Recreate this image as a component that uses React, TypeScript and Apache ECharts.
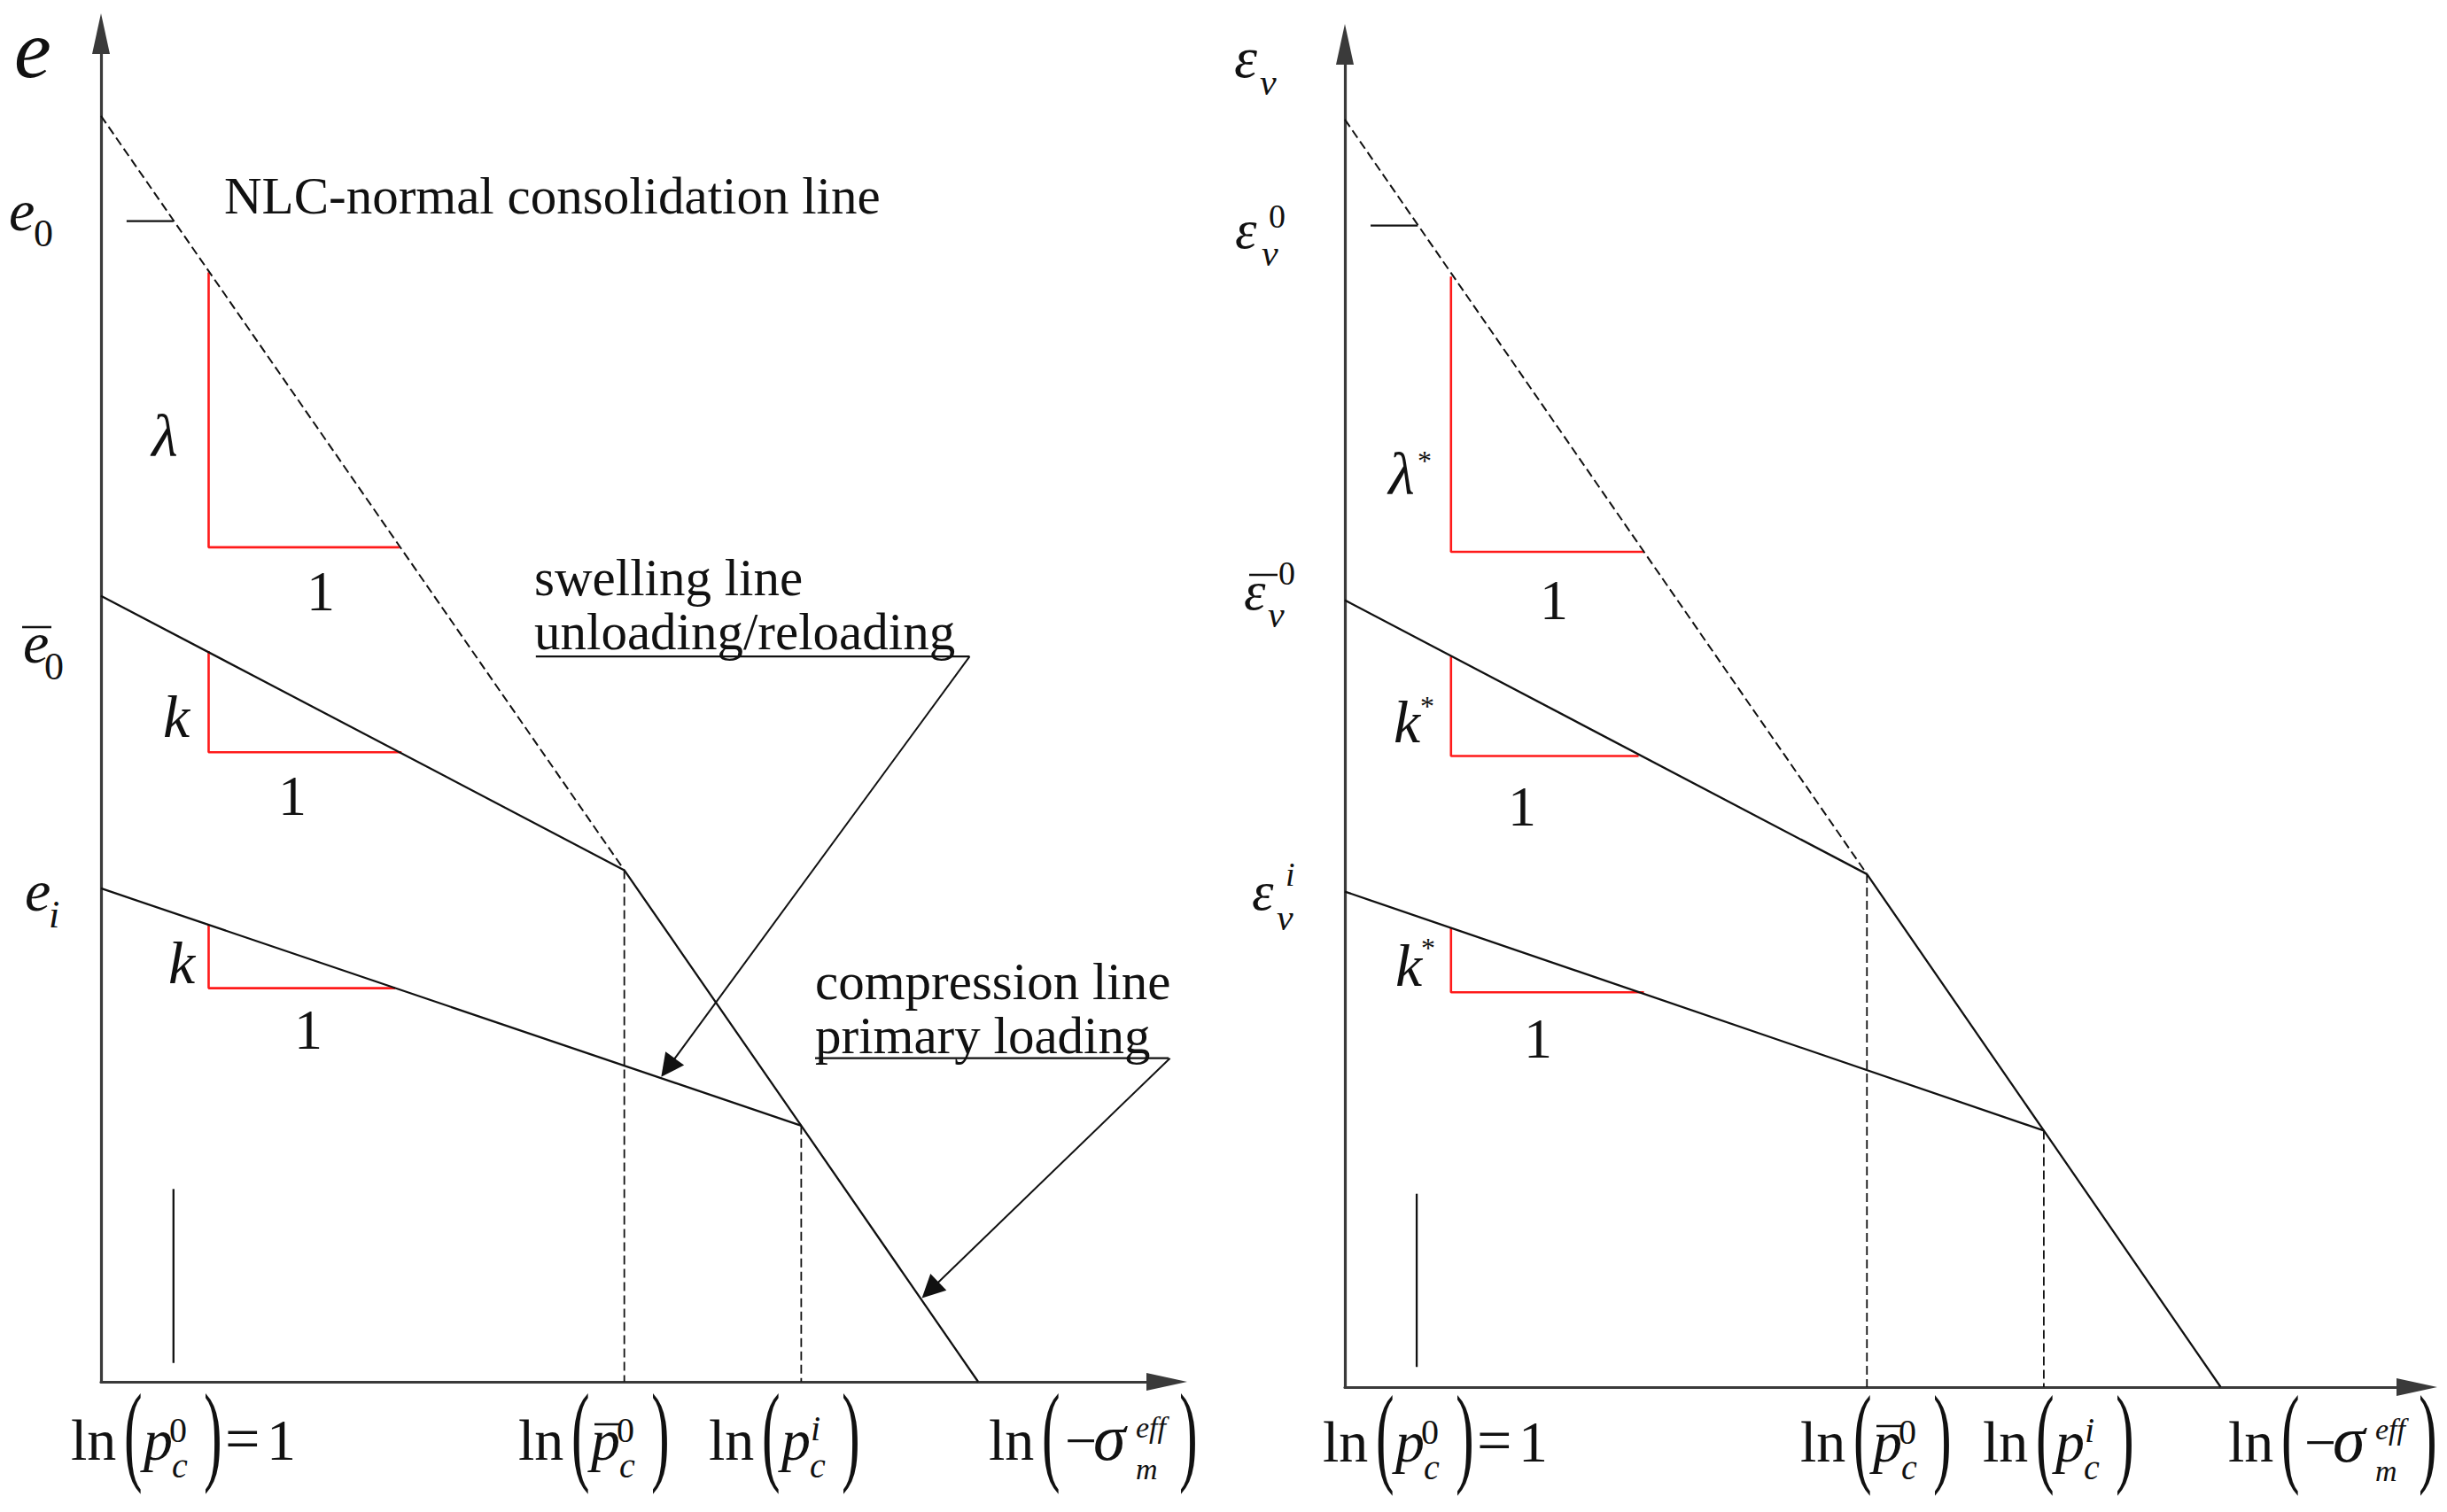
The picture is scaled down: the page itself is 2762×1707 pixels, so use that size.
import React, { useEffect, useRef } from "react";
import * as echarts from "echarts";

type Pt = [number, number];

// ---------------- data (schematic values, axis units 0–100) ----------------
const X_MAX = 100;
const Y_MAX = 100;

// Left panel: void ratio e versus ln(-sigma_m^eff)
const leftNclDashed: Pt[] = [[0, 93.9], [49.1, 37.95]];
const leftNclSolid: Pt[] = [[49.1, 37.95], [65.7, 19.0], [82.3, 0]];
const leftSwellUpper: Pt[] = [[0, 58.3], [49.1, 37.95]];
const leftSwellLower: Pt[] = [[0, 36.6], [65.7, 19.0]];
const leftE0Tick: Pt[] = [[2.4, 86.1], [6.8, 86.1]];
const leftRefMark: Pt[] = [[6.8, 1.4], [6.8, 14.3]];
const leftDropBar: Pt[] = [[49.1, 37.95], [49.1, 0]];
const leftDropI: Pt[] = [[65.7, 19.0], [65.7, 0]];
// [x0, yTop, x1, yBottom]
const leftSlopeTriangles: number[][] = [
  [10.1, 82.3, 28.0, 61.9],
  [10.1, 54.2, 28.2, 46.7],
  [10.1, 33.9, 27.6, 29.2],
];
const swellUnderline: Pt[] = [[40.8, 53.8], [81.5, 53.8]];
const swellLeader: Pt[] = [[81.5, 53.8], [53.2, 23.3]];
const compUnderline: Pt[] = [[67.0, 24.0], [100.3, 24.0]];
const compLeader: Pt[] = [[100.3, 24.0], [77.8, 6.8]];

// Right panel: volumetric strain eps_v versus ln(-sigma_m^eff)
const rightNclDashed: Pt[] = [[0, 94.4], [48.7, 38.2]];
const rightNclSolid: Pt[] = [[48.7, 38.2], [65.2, 19.1], [81.7, 0]];
const rightSwellUpper: Pt[] = [[0, 58.6], [48.7, 38.2]];
const rightSwellLower: Pt[] = [[0, 36.9], [65.2, 19.1]];
const rightE0Tick: Pt[] = [[2.4, 86.5], [6.8, 86.5]];
const rightRefMark: Pt[] = [[6.7, 1.5], [6.7, 14.4]];
const rightDropBar: Pt[] = [[48.7, 38.2], [48.7, 0]];
const rightDropI: Pt[] = [[65.2, 19.1], [65.2, 0]];
const rightSlopeTriangles: number[][] = [
  [9.9, 82.7, 27.9, 62.2],
  [9.9, 54.4, 27.4, 47.0],
  [9.9, 34.2, 27.9, 29.4],
];

// ---------------- styling ----------------
const SERIF = '"Liberation Serif", "Times New Roman", serif';
const INK = "#111111";
const AXIS = "#3a3a3a";
const RED = "#ff1a1a";

function T(text: string, x: number, base: number, size: number, italic = false, extra: any = {}) {
  return {
    type: "text",
    x,
    y: base - 0.3375 * size,
    silent: true,
    ...extra,
    style: {
      text,
      fontSize: size,
      fontFamily: SERIF,
      fontStyle: italic ? "italic" : "normal",
      fill: INK,
      align: "left",
      verticalAlign: "middle",
    },
  };
}
// two-line block: baselines of first and second line
function T2(text: string, x: number, base1: number, base2: number, size: number) {
  const lh = base2 - base1;
  const c1 = base1 - 0.3375 * size;
  return {
    type: "text",
    x,
    y: c1 + lh / 2,
    silent: true,
    style: {
      text,
      fontSize: size,
      lineHeight: lh,
      fontFamily: SERIF,
      fill: INK,
      align: "left",
      verticalAlign: "middle",
    },
  };
}
function C(text: string, cx: number, cy: number, size: number, italic = false) {
  return {
    type: "text",
    x: cx,
    y: cy,
    silent: true,
    style: {
      text,
      fontSize: size,
      fontFamily: SERIF,
      fontStyle: italic ? "italic" : "normal",
      fill: INK,
      align: "center",
      verticalAlign: "middle",
    },
  };
}
function Bar(x1: number, x2: number, y: number) {
  return { type: "line", silent: true, shape: { x1, y1: y, x2, y2: y }, style: { stroke: INK, lineWidth: 2.5 } };
}
function paren(ch: string, x: number, base: number) {
  return T(ch, x, base + 12, 124, false, { scaleX: 0.5 });
}
function lnLabel(x0: number, base: number, kind: "p0" | "pbar" | "pi" | "sigma") {
  const els: any[] = [T("ln", x0, base, 66), paren("(", x0 + 60, base)];
  const c = x0 + 82;
  if (kind === "sigma") {
    els.push(T("\u2212", c + 4, base, 64));
    els.push(T("\u03c3", c + 36, base, 74, true));
    els.push(T("eff", c + 84, base - 25, 34, true));
    els.push(T("m", c + 84, base + 22, 34, true));
    els.push(paren(")", c + 133, base));
    return els;
  }
  els.push(T("p", c, base, 66, true));
  if (kind === "pbar") els.push(Bar(c + 4, c + 32, base - 40));
  if (kind === "pi") els.push(T("i", c + 33, base - 22, 40, true));
  else els.push(T("0", c + 29, base - 20, 40));
  els.push(T("c", c + 32, base + 20, 40, true));
  els.push(paren(")", c + 68, base));
  if (kind === "p0") {
    els.push(T("=", x0 + 174, base, 70));
    els.push(T("1", x0 + 221, base, 66));
  }
  return els;
}

const graphics: any[] = [
  // left y labels
  T("e", 16, 87, 94, true),
  T("e", 10, 260, 66, true),
  T("0", 38, 278, 44),
  Bar(25, 58, 708),
  T("e", 26, 748, 66, true),
  T("0", 50, 767, 44),
  T("e", 28, 1028, 66, true),
  T("i", 55, 1047, 44, true),
  // left slope annotations
  C("\u03bb", 186, 492, 68, true),
  C("1", 362, 667, 64),
  C("k", 199, 809, 68, true),
  C("1", 330, 898, 64),
  C("k", 205, 1087, 68, true),
  C("1", 348, 1162, 64),
  // left callouts
  T("NLC-normal consolidation line", 253, 241, 59),
  T2("swelling line\nunloading/reloading", 603, 672, 733, 59),
  T2("compression line\nprimary loading", 920, 1128, 1189, 59),
  // left x labels
  ...lnLabel(80, 1648, "p0"),
  ...lnLabel(585, 1648, "pbar"),
  ...lnLabel(800, 1648, "pi"),
  ...lnLabel(1116, 1648, "sigma"),
  // right y labels
  T("\u03b5", 1393, 87, 66, true),
  T("v", 1422, 107, 42, true),
  T("\u03b5", 1394, 280, 62, true),
  T("0", 1432, 257, 38),
  T("v", 1424, 300, 42, true),
  Bar(1410, 1442, 649),
  T("\u03b5", 1404, 688, 62, true),
  T("0", 1443, 660, 38),
  T("v", 1431, 708, 42, true),
  T("\u03b5", 1413, 1027, 62, true),
  T("i", 1451, 1000, 38, true),
  T("v", 1441, 1050, 42, true),
  // right slope annotations
  C("\u03bb", 1582, 535, 68, true),
  C("*", 1608, 520, 32),
  C("1", 1754, 677, 64),
  C("k", 1588, 815, 68, true),
  C("*", 1611, 797, 32),
  C("1", 1718, 910, 64),
  C("k", 1590, 1090, 68, true),
  C("*", 1612, 1070, 32),
  C("1", 1736, 1172, 64),
  // right x labels
  ...lnLabel(1493, 1650, "p0"),
  ...lnLabel(2032, 1650, "pbar"),
  ...lnLabel(2238, 1650, "pi"),
  ...lnLabel(2515, 1650, "sigma"),
];

function seg(data: any[], grid: number, color: string, width: number, dashed = false, extra: any = {}) {
  return {
    type: "line",
    xAxisIndex: grid,
    yAxisIndex: grid,
    data,
    symbol: "none",
    silent: true,
    animation: false,
    lineStyle: { color, width, type: dashed ? [10, 5] : "solid", cap: "butt" },
    z: 3,
    ...extra,
  };
}
function tri(t: number[], grid: number) {
  const [x0, yTop, x1, yBot] = t;
  return seg([[x0, yTop], [x0, yBot], [x1, yBot]], grid, RED, 2.6);
}

function panelSeries(
  g: number,
  nclD: Pt[],
  nclS: Pt[],
  su: Pt[],
  sl: Pt[],
  tick: Pt[],
  mark: Pt[],
  d1: Pt[],
  d2: Pt[],
  tris: number[][]
) {
  return [
    ...tris.map((t) => tri(t, g)),
    seg(nclD, g, INK, 2, true),
    seg(nclS, g, INK, 2.3),
    seg(su, g, INK, 2.3),
    seg(sl, g, INK, 2.3),
    seg(tick, g, INK, 2.3),
    seg(mark, g, INK, 2.3),
    seg(d1, g, INK, 1.8, true),
    seg(d2, g, INK, 1.8, true),
  ];
}

function axisPair(g: number) {
  const axisLine = {
    show: true,
    symbol: ["none", "triangle"],
    symbolSize: [20, 46],
    lineStyle: { color: AXIS, width: 3.2 },
  };
  const common = {
    type: "value",
    gridIndex: g,
    min: 0,
    axisLine,
    axisTick: { show: false },
    axisLabel: { show: false },
    splitLine: { show: false },
  };
  return { x: { ...common, max: X_MAX }, y: { ...common, max: Y_MAX } };
}

const ax0 = axisPair(0);
const ax1 = axisPair(1);

const option: any = {
  animation: false,
  backgroundColor: "#ffffff",
  grid: [
    { left: 114, top: 38, width: 1203, height: 1522 },
    { left: 1518, top: 50, width: 1210, height: 1516 },
  ],
  xAxis: [ax0.x, ax1.x],
  yAxis: [ax0.y, ax1.y],
  series: [
    ...panelSeries(0, leftNclDashed, leftNclSolid, leftSwellUpper, leftSwellLower, leftE0Tick, leftRefMark, leftDropBar, leftDropI, leftSlopeTriangles),
    ...panelSeries(1, rightNclDashed, rightNclSolid, rightSwellUpper, rightSwellLower, rightE0Tick, rightRefMark, rightDropBar, rightDropI, rightSlopeTriangles),
    seg(swellUnderline, 0, INK, 2.3, false, { clip: false }),
    seg(compUnderline, 0, INK, 2.3, false, { clip: false }),
    {
      type: "lines",
      coordinateSystem: "cartesian2d",
      xAxisIndex: 0,
      yAxisIndex: 0,
      symbol: ["none", "triangle"],
      symbolSize: [8, 26],
      clip: false,
      silent: true,
      animation: false,
      z: 4,
      lineStyle: { color: INK, width: 2, opacity: 1, curveness: 0 },
      data: [{ coords: swellLeader }, { coords: compLeader }],
    },
  ],
  graphic: graphics,
};

export default function App() {
  const ref = useRef<HTMLDivElement>(null);
  useEffect(() => {
    if (!ref.current) return;
    const chart = echarts.init(ref.current, null, { renderer: "svg" });
    chart.setOption(option);
    return () => chart.dispose();
  }, []);
  return (
    <div
      ref={ref}
      style={{ position: "fixed", left: 0, top: 0, width: 2762, height: 1707, background: "#fff" }}
    />
  );
}
